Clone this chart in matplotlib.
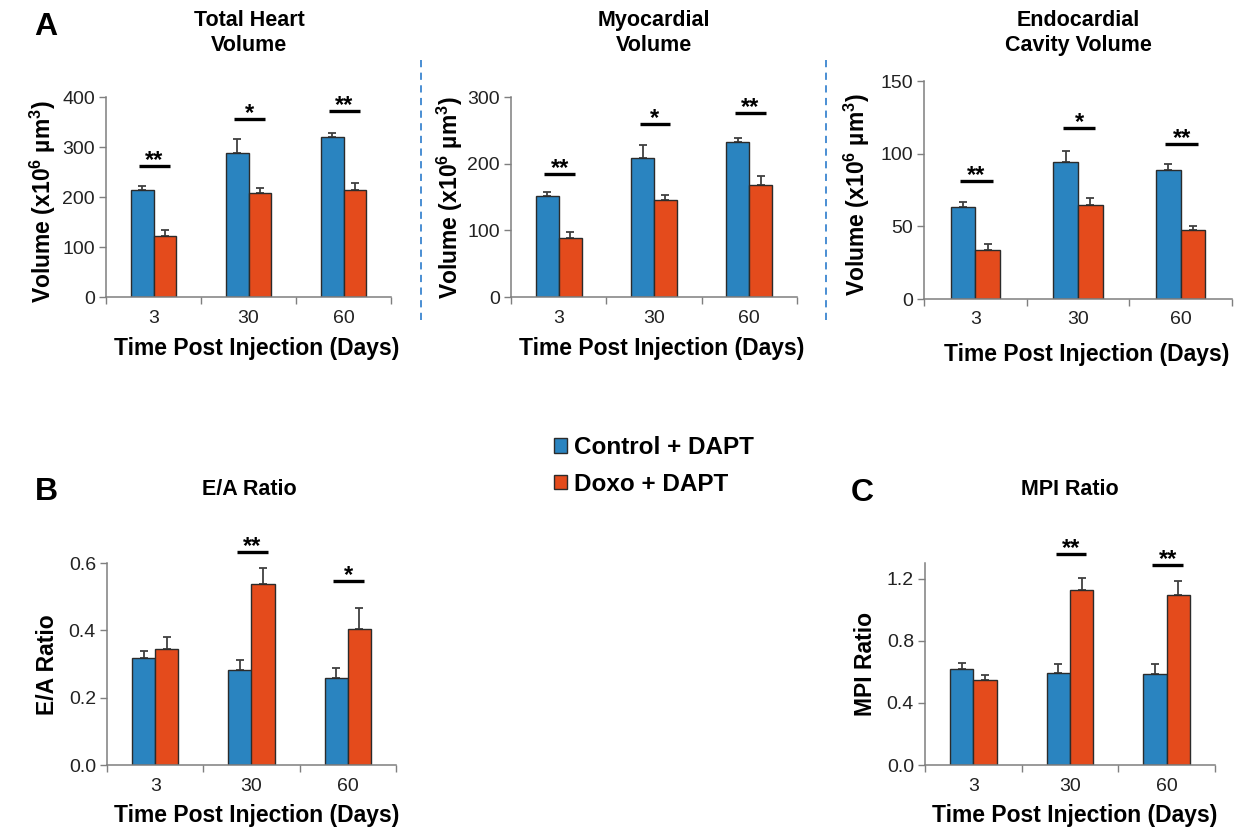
import matplotlib
matplotlib.use("Agg")
import matplotlib.pyplot as plt
from matplotlib.lines import Line2D
from matplotlib.patches import Patch
import numpy as np

plt.rcParams['font.family'] = ['Liberation Sans', 'DejaVu Sans']
plt.rcParams['mathtext.fontset'] = 'custom'
plt.rcParams['mathtext.rm'] = 'Liberation Sans:bold'
plt.rcParams['mathtext.it'] = 'Liberation Sans:bold:italic'
plt.rcParams['mathtext.bf'] = 'Liberation Sans:bold'

# ---------------- data ----------------
categories = ['3', '30', '60']
series_names = ['Control + DAPT', 'Doxo + DAPT']

thv_ctrl = [214, 288, 321]
thv_ctrl_err = [9, 29, 8]
thv_doxo = [122, 209, 214]
thv_doxo_err = [12, 10, 14]

myo_ctrl = [152, 209, 233]
myo_ctrl_err = [6, 19, 5]
myo_doxo = [89, 145, 168]
myo_doxo_err = [8, 8, 13]

endo_ctrl = [63, 94, 89]
endo_ctrl_err = [3.5, 8, 3.7]
endo_doxo = [34, 64.5, 47.5]
endo_doxo_err = [4, 5, 2.5]

ea_ctrl = [0.319, 0.283, 0.258]
ea_ctrl_err = [0.021, 0.030, 0.031]
ea_doxo = [0.346, 0.537, 0.404]
ea_doxo_err = [0.033, 0.048, 0.063]

mpi_ctrl = [0.615, 0.591, 0.585]
mpi_ctrl_err = [0.039, 0.056, 0.062]
mpi_doxo = [0.546, 1.125, 1.097]
mpi_doxo_err = [0.034, 0.079, 0.090]

# significance: (category index, label, bar height)
thv_sig = [(0, '**', 263), (1, '*', 356), (2, '**', 373)]
myo_sig = [(0, '**', 185), (1, '*', 260), (2, '**', 276)]
endo_sig = [(0, '**', 81), (1, '*', 117.7), (2, '**', 106.5)]
ea_sig = [(1, '**', 0.634), (2, '*', 0.548)]
mpi_sig = [(1, '**', 1.36), (2, '**', 1.29)]

# ---------------- style ----------------
BLUE = '#2A84C0'
ORANGE = '#E44B1C'
EDGE = '#2b2b2b'
SPINE = '#7f7f7f'
W, H = 1253, 830

fig = plt.figure(figsize=(W / 100, H / 100), dpi=100)


def ax_px(l, r, t, b):
    return fig.add_axes([l / W, 1 - b / H, (r - l) / W, (b - t) / H])


def draw_panel(ax, ctrl, ctrl_err, doxo, doxo_err, sig, ylim, yticks, ytl,
               title, title_xy, ylabel, ylabel_xy, xlabel_xy):
    x = np.arange(len(categories))
    bw = 0.24
    ax.bar(x - bw / 2, ctrl, bw, color=BLUE, edgecolor=EDGE, linewidth=1.0, zorder=2)
    ax.bar(x + bw / 2, doxo, bw, color=ORANGE, edgecolor=EDGE, linewidth=1.0, zorder=2)
    ax.errorbar(x - bw / 2, ctrl, yerr=[np.zeros(len(x)), ctrl_err], fmt='none',
                ecolor='#404040', elinewidth=1.3, capsize=3, capthick=1.3, zorder=1)
    ax.errorbar(x + bw / 2, doxo, yerr=[np.zeros(len(x)), doxo_err], fmt='none',
                ecolor='#404040', elinewidth=1.3, capsize=3, capthick=1.3, zorder=1)
    for i, lab, h in sig:
        ax.plot([i - 0.15, i + 0.17], [h, h], color='black', lw=2.4,
                solid_capstyle='butt', clip_on=False, zorder=3)
        ax.annotate(lab, xy=(i + 0.01, h), xytext=(0, -0.8), textcoords='offset points',
                    ha='center', va='baseline', fontsize=17, fontweight='bold',
                    annotation_clip=False)
    ax.set_xlim(-0.5, len(categories) - 0.5)
    ax.set_ylim(*ylim)
    ax.set_yticks(yticks)
    ax.set_yticklabels(ytl)
    ax.set_xticks(np.arange(len(categories) + 1) - 0.5)
    ax.set_xticklabels([])
    ax.set_xticks(x, minor=True)
    ax.set_xticklabels(categories, minor=True)
    ax.tick_params(axis='x', which='major', direction='out', length=5, color=SPINE, width=1)
    ax.tick_params(axis='x', which='minor', length=0, pad=9, labelsize=14, labelcolor='#222222')
    ax.tick_params(axis='y', direction='out', length=5, color=SPINE, width=1,
                   labelsize=14, labelcolor='#222222', pad=3)
    for s in ['top', 'right']:
        ax.spines[s].set_visible(False)
    for s in ['left', 'bottom']:
        ax.spines[s].set_color(SPINE)
        ax.spines[s].set_linewidth(1.1)
    ax.set_facecolor('none')
    fig.text(title_xy[0] / W, 1 - title_xy[1] / H, title, ha='center', va='center',
             fontsize=15.5, fontweight='bold', linespacing=1.3)
    ax.set_ylabel(ylabel, fontsize=16.5, fontweight='bold')
    ax.yaxis.set_label_coords(ylabel_xy[0] / W, 1 - ylabel_xy[1] / H, transform=fig.transFigure)
    ax.yaxis.label.set_va('center')
    ax.set_xlabel('Time Post Injection (Days)', fontsize=16.5, fontweight='bold')
    ax.xaxis.set_label_coords(xlabel_xy[0] / W, 1 - xlabel_xy[1] / H, transform=fig.transFigure)
    ax.xaxis.label.set_va('center')


vol_label = 'Volume (x10$^{6}$ µm$^{3}$)'

ax1 = ax_px(106, 391, 97, 297)
draw_panel(ax1, thv_ctrl, thv_ctrl_err, thv_doxo, thv_doxo_err, thv_sig,
           (0, 400), [0, 100, 200, 300, 400], ['0', '100', '200', '300', '400'],
           'Total Heart\nVolume', (249, 33), vol_label, (43, 202), (257, 348))

ax2 = ax_px(511, 797, 97, 297)
draw_panel(ax2, myo_ctrl, myo_ctrl_err, myo_doxo, myo_doxo_err, myo_sig,
           (0, 300), [0, 100, 200, 300], ['0', '100', '200', '300'],
           'Myocardial\nVolume', (654, 33), vol_label, (450, 198), (662, 348))

ax3 = ax_px(924, 1232, 81, 299)
draw_panel(ax3, endo_ctrl, endo_ctrl_err, endo_doxo, endo_doxo_err, endo_sig,
           (0, 150), [0, 50, 100, 150], ['0', '50', '100', '150'],
           'Endocardial\nCavity Volume', (1078, 33), vol_label, (857, 195), (1087, 354))

ax4 = ax_px(107, 396, 563, 765)
draw_panel(ax4, ea_ctrl, ea_ctrl_err, ea_doxo, ea_doxo_err, ea_sig,
           (0, 0.6), [0, 0.2, 0.4, 0.6], ['0.0', '0.2', '0.4', '0.6'],
           'E/A Ratio', (249, 489), 'E/A Ratio', (47, 665), (257, 815))

ax5 = ax_px(925, 1215, 563, 765)
draw_panel(ax5, mpi_ctrl, mpi_ctrl_err, mpi_doxo, mpi_doxo_err, mpi_sig,
           (0, 1.3), [0, 0.4, 0.8, 1.2], ['0.0', '0.4', '0.8', '1.2'],
           'MPI Ratio', (1070, 489), 'MPI Ratio', (865, 664), (1075, 815))

# panel letters
for lab, (px, py) in zip(['A', 'B', 'C'], [(46, 27), (46, 492), (862, 493)]):
    fig.text(px / W, 1 - py / H, lab, ha='center', va='center', fontsize=23, fontweight='bold')

# dashed separators
for xs in [421, 826]:
    fig.add_artist(Line2D([xs / W, xs / W], [1 - 60 / H, 1 - 324 / H], transform=fig.transFigure,
                          color='#3C86D0', lw=1.3, linestyle=(0, (4, 3))))

# legend
handles = [Patch(facecolor=BLUE, edgecolor=EDGE, linewidth=1.0),
           Patch(facecolor=ORANGE, edgecolor=EDGE, linewidth=1.0)]
fig.legend(handles, series_names, loc='center left', bbox_to_anchor=(544 / W, 1 - 466 / H),
           frameon=False, prop={'weight': 'bold', 'size': 17.5}, handlelength=0.55,
           handleheight=0.55, handletextpad=0.3, labelspacing=0.55, borderaxespad=0)

fig.savefig('out.png', dpi=100)
